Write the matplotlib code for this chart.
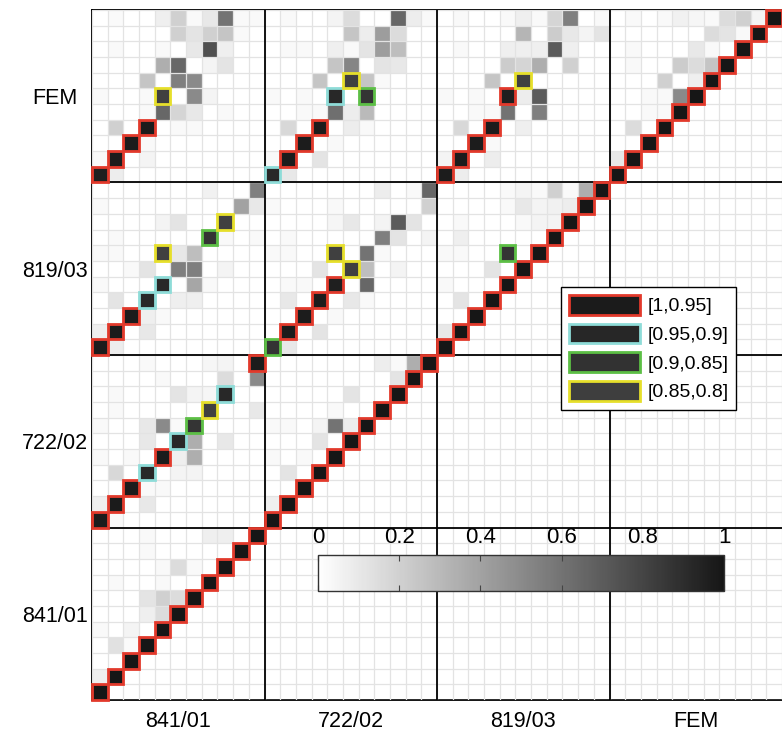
import numpy as np
import matplotlib
matplotlib.use('Agg')
import matplotlib.pyplot as plt
from matplotlib.colors import LinearSegmentedColormap
from matplotlib.patches import Rectangle, Patch

plt.rcParams['font.family'] = ['Liberation Sans', 'DejaVu Sans']

# mode sets, bottom-to-top on y and left-to-right on x
sets = ['841/01', '722/02', '819/03', 'FEM']
n_modes = 11

# MAC blocks: rows listed from mode 11 (top) down to mode 1, columns mode 1..11
mac_841_841 = [
    [0, 0, 0, .03, 0, 0, 0, .07, .07, 0, 1],
    [0, 0, 0, .03, 0, 0, 0, 0, 0, 1, 0],
    [0, 0, 0, 0, .03, .15, .03, 0, 1, 0, 0],
    [0, .03, 0, 0, .03, 0, 0, 1, 0, 0, 0],
    [0, 0, 0, .12, .2, .15, 1, 0, 0, 0, 0],
    [0, 0, 0, .07, .15, 1, 0, 0, 0, 0, 0],
    [.03, 0, .05, 0, 1, 0, 0, 0, 0, 0, 0],
    [0, .13, .02, 1, 0, 0, 0, 0, 0, 0, 0],
    [0, 0, 1, 0, 0, 0, 0, 0, 0, 0, 0],
    [.07, 1, 0, 0, 0, 0, 0, 0, 0, 0, 0],
    [1, 0, 0, 0, 0, 0, 0, 0, 0, 0, 0],
]
mac_722_841 = [
    [0, 0, 0, .03, 0, 0, 0, .04, .05, 0, .97],
    [0, 0, 0, 0, .03, 0, 0, 0, .15, 0, .5],
    [0, .03, 0, 0, 0, .12, .05, .04, .92, 0, 0],
    [0, .03, 0, 0, 0, 0, 0, .82, 0, 0, .1],
    [.03, 0, 0, .1, .5, .03, .87, 0, 0, 0, 0],
    [0, 0, 0, .1, 0, .92, .35, 0, .1, 0, 0],
    [.03, 0, .03, 0, .97, .07, .35, 0, 0, 0, 0],
    [0, .17, 0, .92, 0, .05, .05, 0, 0, 0, 0],
    [0, 0, .97, .03, .03, 0, 0, 0, 0, 0, 0],
    [.07, .98, 0, .1, 0, 0, 0, 0, 0, 0, 0],
    [.97, .03, 0, 0, 0, 0, 0, 0, 0, 0, 0],
]
mac_722_722 = [
    [0, 0, 0, 0, 0, 0, 0, .08, .03, .35, 1],
    [0, 0, 0, 0, 0, 0, 0, 0, .12, 1, 0],
    [0, 0, 0, 0, 0, .12, 0, 0, 1, 0, 0],
    [0, 0, 0, 0, .03, 0, 0, 1, 0, 0, 0],
    [.03, .03, 0, .05, .6, .08, 1, 0, 0, 0, 0],
    [0, 0, 0, .12, 0, 1, 0, 0, 0, 0, 0],
    [.03, 0, .03, 0, 1, 0, 0, 0, 0, 0, 0],
    [0, .12, 0, 1, 0, 0, 0, 0, 0, 0, 0],
    [0, 0, 1, 0, 0, 0, 0, 0, 0, 0, 0],
    [.07, 1, 0, 0, 0, 0, 0, 0, 0, 0, 0],
    [1, 0, 0, 0, 0, 0, 0, 0, 0, 0, 0],
]
mac_819_841 = [
    [0, 0, 0, 0, 0, 0, 0, .06, 0, 0, .55],
    [.03, 0, 0, 0, 0, 0, 0, 0, 0, .4, .1],
    [0, 0, 0, 0, .05, .12, 0, 0, .82, 0, 0],
    [0, .03, 0, 0, 0, 0, 0, .87, .03, 0, .03],
    [.03, .03, 0, 0, .82, .1, .28, 0, 0, 0, 0],
    [0, 0, .03, .12, 0, .55, .55, 0, .05, 0, 0],
    [.03, 0, 0, 0, .92, 0, .38, .03, 0, 0, 0],
    [0, .12, 0, .92, 0, .07, .07, 0, 0, 0, 0],
    [0, 0, .97, .07, .03, 0, 0, 0, 0, 0, 0],
    [.07, .98, 0, .1, 0, 0, 0, 0, 0, 0, 0],
    [.97, .08, 0, 0, 0, 0, 0, 0, 0, 0, 0],
]
mac_819_722 = [
    [0, 0, 0, 0, 0, 0, 0, .08, 0, .03, .65],
    [.03, 0, 0, 0, .03, 0, 0, 0, 0, 0, .2],
    [0, 0, 0, 0, .04, .1, 0, .05, .7, .12, 0],
    [0, .03, 0, 0, 0, 0, 0, .55, .12, 0, .05],
    [.03, .03, 0, 0, .82, 0, .6, .03, 0, 0, 0],
    [0, 0, 0, .12, 0, .82, .28, 0, .05, 0, 0],
    [0, .03, .03, 0, .96, 0, .65, 0, 0, 0, 0],
    [0, .1, 0, .97, 0, .1, .03, 0, 0, 0, 0],
    [0, 0, .97, 0, .03, 0, 0, 0, 0, 0, 0],
    [0, .98, 0, .12, 0, 0, 0, 0, 0, 0, 0],
    [.87, .1, 0, 0, 0, 0, 0, 0, 0, 0, 0],
]
mac_819_819 = [
    [0, 0, 0, 0, .03, .05, .03, .2, .03, .35, 1],
    [0, 0, 0, 0, .03, .1, .05, .06, .08, 1, 0],
    [0, .03, 0, 0, 0, .03, .05, .05, 1, 0, 0],
    [0, .07, 0, 0, 0, 0, 0, 1, 0, 0, 0],
    [.03, .03, 0, 0, .87, 0, 1, 0, 0, 0, 0],
    [0, 0, 0, .12, 0, 1, 0, 0, 0, 0, 0],
    [.03, 0, 0, 0, 1, 0, 0, 0, 0, 0, 0],
    [0, .12, 0, 1, 0, 0, 0, 0, 0, 0, 0],
    [0, 0, 1, 0, 0, 0, 0, 0, 0, 0, 0],
    [.1, 1, 0, 0, 0, 0, 0, 0, 0, 0, 0],
    [1, 0, 0, 0, 0, 0, 0, 0, 0, 0, 0],
]
mac_fem_841 = [
    [0, .02, 0, 0, .07, .2, .03, .1, .6, .03, .03],
    [0, 0, 0, 0, 0, .2, .12, .2, .25, .03, 0],
    [0, .03, 0, 0, .03, 0, .1, .75, .07, 0, 0],
    [0, 0, 0, 0, .35, .65, 0, .05, .12, 0, 0],
    [0, 0, 0, .25, 0, .55, .5, 0, 0, 0, 0],
    [.03, 0, 0, .03, .82, 0, .5, .05, 0, 0, 0],
    [0, 0, 0, .03, .65, .18, .1, 0, .03, 0, 0],
    [0, .2, 0, .97, 0, .03, .03, 0, 0, 0, 0],
    [0, 0, .97, .03, 0, 0, 0, 0, 0, 0, 0],
    [.03, .97, 0, .05, 0, 0, 0, 0, 0, 0, 0],
    [.96, .08, 0, 0, 0, 0, 0, 0, 0, 0, 0],
]
mac_fem_722 = [
    [0, .03, 0, 0, .05, .15, 0, 0, .65, .08, .03],
    [0, 0, 0, 0, 0, .25, .08, .42, .15, 0, 0],
    [0, .03, .03, 0, .07, .03, .12, .42, .28, 0, 0],
    [0, 0, 0, 0, .25, .52, 0, .12, .1, 0, 0],
    [0, 0, 0, .25, 0, .82, .25, .03, 0, 0, 0],
    [.03, 0, .03, 0, .92, 0, .87, 0, 0, 0, 0],
    [0, 0, .03, .03, .62, .08, .3, 0, 0, 0, 0],
    [0, .17, 0, .97, 0, .08, .03, 0, 0, 0, 0],
    [0, 0, .97, 0, .03, 0, 0, 0, 0, 0, 0],
    [.03, .97, 0, .12, 0, 0, 0, 0, 0, 0, 0],
    [.92, .1, 0, 0, 0, 0, 0, 0, 0, 0, 0],
]
mac_fem_819 = [
    [0, .03, 0, 0, .03, .07, .03, .18, .55, 0, .03],
    [0, 0, 0, 0, 0, .32, 0, .22, .1, .05, .12],
    [0, .03, 0, 0, .07, .07, .07, .7, .07, 0, 0],
    [0, 0, 0, 0, .22, .18, .35, 0, .2, 0, 0],
    [0, 0, 0, .25, 0, .82, 0, 0, 0, 0, 0],
    [.03, 0, .03, 0, .96, .08, .7, 0, 0, 0, 0],
    [0, 0, .03, .03, .6, 0, .55, 0, 0, 0, 0],
    [0, .17, 0, .97, 0, .07, 0, 0, 0, 0, 0],
    [0, 0, .97, .03, 0, 0, 0, 0, 0, 0, 0],
    [.05, .97, 0, .08, 0, 0, 0, 0, 0, 0, 0],
    [.97, .08, 0, 0, 0, 0, 0, 0, 0, 0, 0],
]
mac_fem_fem = [
    [0, .03, 0, .03, .06, .04, .03, .15, .2, .05, 1],
    [0, 0, 0, 0, 0, 0, .15, .12, .03, 1, 0],
    [0, .03, 0, 0, 0, .1, .03, 0, 1, 0, 0],
    [0, .03, 0, 0, .22, .15, .25, 1, 0, 0, 0],
    [0, 0, 0, .2, 0, .07, 1, 0, 0, 0, 0],
    [0, 0, .03, .03, .5, 1, 0, 0, 0, 0, 0],
    [0, 0, .03, .03, 1, 0, 0, 0, 0, 0, 0],
    [0, .15, 0, 1, 0, 0, 0, 0, 0, 0, 0],
    [0, 0, 1, 0, 0, 0, 0, 0, 0, 0, 0],
    [.1, 1, 0, 0, 0, 0, 0, 0, 0, 0, 0],
    [1, 0, 0, 0, 0, 0, 0, 0, 0, 0, 0],
]

# (row set index, column set index) -> block
blocks = {
    (0, 0): mac_841_841,
    (1, 0): mac_722_841, (1, 1): mac_722_722,
    (2, 0): mac_819_841, (2, 1): mac_819_722, (2, 2): mac_819_819,
    (3, 0): mac_fem_841, (3, 1): mac_fem_722, (3, 2): mac_fem_819, (3, 3): mac_fem_fem,
}

band_lo = [0.95, 0.9, 0.85, 0.8]
band_hi = [1.01, 0.95, 0.9, 0.85]
band_colors = ['#e2392b', '#8edcd8', '#5cbf45', '#e6df2a']
band_labels = ['[1,0.95]', '[0.95,0.9]', '[0.9,0.85]', '[0.85,0.8]']

n = n_modes * len(sets)
mac = np.zeros((n, n))
for (rb, cb), blk in blocks.items():
    mac[rb*n_modes:(rb+1)*n_modes, cb*n_modes:(cb+1)*n_modes] = np.array(blk)[::-1]

cmap = LinearSegmentedColormap.from_list('mac_gray', ['#ffffff', '#161616'])

fig = plt.figure(figsize=(7.82, 7.32), dpi=100)
ax = fig.add_axes([92/782, 32/732, 690/782, 690/732])

mesh = ax.pcolormesh(np.arange(n + 1), np.arange(n + 1), mac, cmap=cmap, vmin=0, vmax=1, zorder=1)

# light cell grid
ax.set_xticks(np.arange(n + 1), minor=True)
ax.set_yticks(np.arange(n + 1), minor=True)
ax.set_axisbelow(False)
ax.grid(which='minor', color='#e3e3e3', lw=0.9)
ax.grid(which='major', visible=False)

# block separators
for k in range(1, len(sets)):
    ax.axhline(k * n_modes, color='k', lw=1.3, zorder=3)
    ax.axvline(k * n_modes, color='k', lw=1.3, zorder=3)

# outline high MAC values
for r in range(n):
    for c in range(n):
        v = mac[r, c]
        for lo, hi, col in zip(band_lo, band_hi, band_colors):
            if lo <= v < hi:
                ax.add_patch(Rectangle((c, r), 1, 1, fill=False, edgecolor=col, lw=2.0, zorder=4, clip_on=False))

ax.set_xlim(0, n)
ax.set_ylim(0, n)
centers = np.arange(len(sets)) * n_modes + n_modes / 2
ax.set_xticks(centers)
ax.set_xticklabels(sets, fontsize=15.5)
ax.set_yticks(centers)
ax.set_yticklabels(sets, fontsize=15.5)
ax.tick_params(which='both', length=0)
ax.tick_params(axis='x', pad=8)
ax.tick_params(axis='y', pad=26.6)
for lab in ax.get_yticklabels():
    lab.set_horizontalalignment('center')
for side in ['left', 'top', 'bottom']:
    ax.spines[side].set_linewidth(1.3)
ax.spines['right'].set_visible(False)

handles = [Patch(facecolor=cmap((lo + min(hi, 1)) / 2), edgecolor=col, lw=2)
           for lo, hi, col in zip(band_lo, band_hi, band_colors)]
leg = ax.legend(handles, band_labels, loc='upper left', bbox_to_anchor=(0.680, 0.599),
                borderaxespad=0, fontsize=14, frameon=True, fancybox=False, framealpha=1,
                edgecolor='k', handlelength=3.65, handleheight=1.2, labelspacing=0.42,
                handletextpad=0.35, borderpad=0.42)
leg.get_frame().set_linewidth(1.0)
leg.set_zorder(6)

cax = fig.add_axes([318/782, 141/732, 406/782, 36/732])
cb = fig.colorbar(mesh, cax=cax, orientation='horizontal', ticks=[0, 0.2, 0.4, 0.6, 0.8, 1])
cb.ax.set_xticklabels(['0', '0.2', '0.4', '0.6', '0.8', '1'])
cax.tick_params(axis='x', direction='in', top=True, bottom=True, labeltop=True,
                labelbottom=False, length=4, color='#444444', labelsize=16, pad=5)
cb.outline.set_edgecolor('#333333')
cb.outline.set_linewidth(1.0)

plt.savefig('out.png', dpi=100)
plt.close(fig)
